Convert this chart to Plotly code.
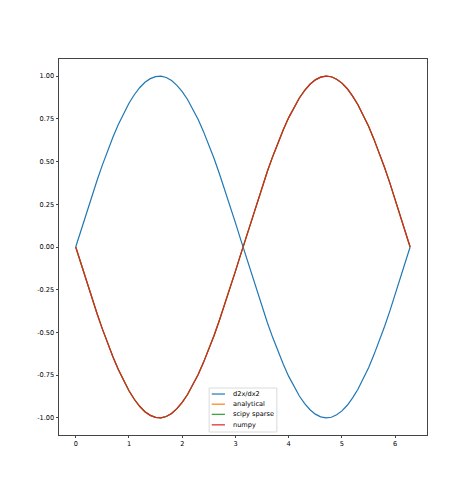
import plotly.graph_objects as go

# Values
x_vals = [0.0, 0.1, 0.2, 0.3, 0.4, 0.5, 0.6, 0.7, 0.8, 0.9, 1.0, 1.1, 1.2, 1.3, 1.4, 1.5,
          1.6, 1.7, 1.8, 1.9, 2.0, 2.1, 2.2, 2.3, 2.4, 2.5, 2.6, 2.7, 2.8, 2.9, 3.0, 3.1,
          3.2, 3.3, 3.4, 3.5, 3.6, 3.7, 3.8, 3.9, 4.0, 4.1, 4.2, 4.3, 4.4, 4.5, 4.6, 4.7,
          4.8, 4.9, 5.0, 5.1, 5.2, 5.3, 5.4, 5.5, 5.6, 5.7, 5.8, 5.9, 6.0, 6.1, 6.2, 6.28]

d2x_dx2 = [0.000, 0.100, 0.199, 0.296, 0.389, 0.479, 0.565, 0.644, 0.717, 0.783, 0.841,
           0.891, 0.932, 0.964, 0.985, 0.997, 1.000, 0.992, 0.974, 0.946, 0.909, 0.863,
           0.808, 0.746, 0.675, 0.598, 0.516, 0.427, 0.335, 0.239, 0.141, 0.042, -0.058,
           -0.158, -0.256, -0.351, -0.443, -0.530, -0.612, -0.688, -0.757, -0.818, -0.872,
           -0.916, -0.952, -0.978, -0.994, -1.000, -0.996, -0.982, -0.959, -0.926, -0.883,
           -0.832, -0.773, -0.706, -0.631, -0.551, -0.465, -0.374, -0.279, -0.182, -0.083,
           0.000]

analytical = [0.000, -0.100, -0.199, -0.296, -0.389, -0.479, -0.565, -0.644, -0.717, -0.783,
              -0.841, -0.891, -0.932, -0.964, -0.985, -0.997, -1.000, -0.992, -0.974, -0.946,
              -0.909, -0.863, -0.808, -0.746, -0.675, -0.598, -0.516, -0.427, -0.335, -0.239,
              -0.141, -0.042, 0.058, 0.158, 0.256, 0.351, 0.443, 0.530, 0.612, 0.688, 0.757,
              0.818, 0.872, 0.916, 0.952, 0.978, 0.994, 1.000, 0.996, 0.982, 0.959, 0.926,
              0.883, 0.832, 0.773, 0.706, 0.631, 0.551, 0.465, 0.374, 0.279, 0.182, 0.083,
              0.000]

scipy_sparse = [0.000, -0.100, -0.199, -0.296, -0.389, -0.479, -0.565, -0.644, -0.717, -0.783,
                -0.841, -0.891, -0.932, -0.964, -0.985, -0.997, -1.000, -0.992, -0.974, -0.946,
                -0.909, -0.863, -0.808, -0.746, -0.675, -0.598, -0.516, -0.427, -0.335, -0.239,
                -0.141, -0.042, 0.058, 0.158, 0.256, 0.351, 0.443, 0.530, 0.612, 0.688, 0.757,
                0.818, 0.872, 0.916, 0.952, 0.978, 0.994, 1.000, 0.996, 0.982, 0.959, 0.926,
                0.883, 0.832, 0.773, 0.706, 0.631, 0.551, 0.465, 0.374, 0.279, 0.182, 0.083,
                0.000]

numpy_vals = [0.000, -0.100, -0.199, -0.296, -0.389, -0.479, -0.565, -0.644, -0.717, -0.783,
              -0.841, -0.891, -0.932, -0.964, -0.985, -0.997, -1.000, -0.992, -0.974, -0.946,
              -0.909, -0.863, -0.808, -0.746, -0.675, -0.598, -0.516, -0.427, -0.335, -0.239,
              -0.141, -0.042, 0.058, 0.158, 0.256, 0.351, 0.443, 0.530, 0.612, 0.688, 0.757,
              0.818, 0.872, 0.916, 0.952, 0.978, 0.994, 1.000, 0.996, 0.982, 0.959, 0.926,
              0.883, 0.832, 0.773, 0.706, 0.631, 0.551, 0.465, 0.374, 0.279, 0.182, 0.083,
              0.000]

y_ticks = [-1.0, -0.75, -0.5, -0.25, 0.0, 0.25, 0.5, 0.75, 1.0]
x_ticks = [0, 1, 2, 3, 4, 5, 6]

names = ["d2x/dx2", "analytical", "scipy sparse", "numpy"]
colors = ["#1f77b4", "#ff7f0e", "#2ca02c", "#d62728"]
all_vals = [d2x_dx2, analytical, scipy_sparse, numpy_vals]

font = dict(family="DejaVu Sans", size=6.6, color="#000000")

fig = go.Figure()
for name, vals, color in zip(names, all_vals, colors):
    fig.add_trace(go.Scatter(x=x_vals, y=vals, name=name, mode="lines",
                             line=dict(color=color, width=1.2)))

axis_style = dict(
    showgrid=False, zeroline=False, showline=True, linecolor="#444444", linewidth=0.8,
    mirror=True, ticks="outside", ticklen=2.5, tickcolor="#444444", tickfont=font,
)
fig.update_xaxes(range=[-0.314, 6.597], tickvals=x_ticks, **axis_style)
fig.update_yaxes(range=[-1.1, 1.1], tickvals=y_ticks,
                 ticktext=[f"{v:.2f}" for v in y_ticks], **axis_style)

# compact matplotlib-style legend (lower center)
shapes = [dict(type="rect", xref="paper", yref="paper", x0=0.408, x1=0.592, y0=0.008,
               y1=0.125, line=dict(color="#d0d0d0", width=0.8),
               fillcolor="rgba(255,255,255,0.8)", layer="above")]
annotations = []
row_y = [0.109, 0.082, 0.055, 0.027]
for name, color, yy in zip(names, colors, row_y):
    shapes.append(dict(type="line", xref="paper", yref="paper", x0=0.415, x1=0.451,
                       y0=yy, y1=yy, line=dict(color=color, width=1.2), layer="above"))
    annotations.append(dict(xref="paper", yref="paper", x=0.467, y=yy, text=name,
                            showarrow=False, xanchor="left", yanchor="middle", font=font))

# page body adds an 8px offset, so the figure is sized to fit inside the window
fig.update_layout(
    width=466, height=481,
    margin=dict(l=51, r=47, t=51, b=54),
    paper_bgcolor="white", plot_bgcolor="white",
    showlegend=False,
    shapes=shapes, annotations=annotations,
)

fig.write_html("out.html")
